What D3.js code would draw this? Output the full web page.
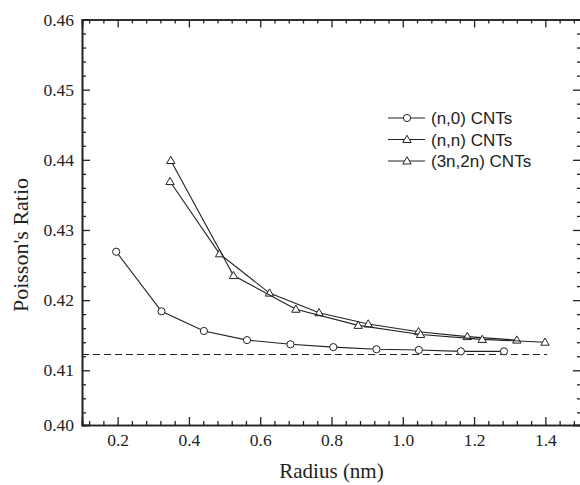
<!DOCTYPE html>
<html>
<head>
<meta charset="utf-8">
<script src="https://cdn.jsdelivr.net/npm/d3@7"></script>
<style>
  body { margin: 0; background: #fff; }
  .serif { font-family: "Liberation Serif", "Tinos", "Times New Roman", Times, "DejaVu Serif", serif; }
  .tick text { font-family: "Liberation Serif", "Tinos", "Times New Roman", Times, "DejaVu Serif", serif; font-size: 17.5px; fill: #222; }
</style>
</head>
<body>
<script>
// values
var radiusN0 = [0.196, 0.323, 0.442, 0.563, 0.685, 0.805, 0.926, 1.045, 1.163, 1.284]
var ratioN0 = [0.4269, 0.4184, 0.4156, 0.4143, 0.4137, 0.4133, 0.4130, 0.4129, 0.4127, 0.4127]
var radiusNN = [0.347, 0.486, 0.626, 0.765, 0.903, 1.044, 1.181, 1.320]
var ratioNN = [0.4369, 0.4266, 0.4210, 0.4182, 0.4166, 0.4155, 0.4148, 0.4143]
var radius32 = [0.349, 0.525, 0.700, 0.875, 1.050, 1.223, 1.399]
var ratio32 = [0.4399, 0.4235, 0.4187, 0.4164, 0.4151, 0.4144, 0.4140]
var limitRatio = 0.41225
var limitRadius = [0.1, 1.405]
var xTicks = [0.2, 0.4, 0.6, 0.8, 1.0, 1.2, 1.4]
var yTicks = [0.40, 0.41, 0.42, 0.43, 0.44, 0.45, 0.46]
var seriesNames = ['(n,0) CNTs', '(n,n) CNTs', '(3n,2n) CNTs']
var seriesMarks = ['circle', 'triangle', 'triangle']

var W = 580, H = 485
var margin = {top: 19.5, right: -1, bottom: 60, left: 82}
var width = W - margin.left - margin.right
var height = H - margin.top - margin.bottom

// the bottom of the frame sits a little above 0.40 in the original figure
var yMin = 0.4022
var x = d3.scaleLinear().domain([0.1, 1.5]).range([0, width])
var y = d3.scaleLinear().domain([yMin, 0.46]).range([height, 0])

var svg = d3.select('body').append('svg')
  .attr('width', W)
  .attr('height', H)
var g = svg.append('g')
  .attr('transform', `translate(${margin.left}, ${margin.top})`)

var xMinor = d3.range(0.12, 1.5, 0.04).filter(v => xTicks.every(t => Math.abs(t - v) > 1e-6))
var yMinor = d3.range(0.404, 0.46, 0.002).filter(v => yTicks.every(t => Math.abs(t - v) > 1e-6))
var yMajor = yTicks.map(v => Math.max(v, yMin))

function styleAxis(sel) {
  sel.attr('font-family', null).attr('font-size', null)
  sel.select('.domain').attr('stroke', '#222').attr('stroke-width', 1.6)
  sel.selectAll('.tick line').attr('stroke', '#222').attr('stroke-width', 1.3)
}

// minor ticks
g.append('g').attr('transform', `translate(0, ${height})`)
  .call(d3.axisBottom(x).tickValues(xMinor).tickSize(-4).tickFormat(''))
  .call(styleAxis)
g.append('g')
  .call(d3.axisTop(x).tickValues(xMinor).tickSize(-4).tickFormat(''))
  .call(styleAxis)
g.append('g')
  .call(d3.axisLeft(y).tickValues(yMinor).tickSize(-4).tickFormat(''))
  .call(styleAxis)
g.append('g').attr('transform', `translate(${width}, 0)`)
  .call(d3.axisRight(y).tickValues(yMinor).tickSize(-4).tickFormat(''))
  .call(styleAxis)

// major ticks
g.append('g').attr('transform', `translate(0, ${height})`)
  .call(d3.axisBottom(x).tickValues(xTicks).tickSize(-8).tickPadding(9).tickFormat(d3.format('.1f')))
  .call(styleAxis)
g.append('g')
  .call(d3.axisTop(x).tickValues(xTicks).tickSize(-8).tickFormat(''))
  .call(styleAxis)
g.append('g')
  .call(d3.axisLeft(y).tickValues(yMajor).tickSize(-8).tickPadding(8)
    .tickFormat(d => d === yMin ? '0.40' : d3.format('.2f')(d)))
  .call(styleAxis)
g.append('g').attr('transform', `translate(${width}, 0)`)
  .call(d3.axisRight(y).tickValues(yMajor).tickSize(-8).tickFormat(''))
  .call(styleAxis)

// limit line
g.append('line')
  .attr('x1', x(limitRadius[0])).attr('x2', x(limitRadius[1]))
  .attr('y1', y(limitRatio)).attr('y2', y(limitRatio))
  .attr('stroke', '#222').attr('stroke-width', 1.1)
  .attr('stroke-dasharray', '7,4')

var series = [
  {xs: radiusN0, ys: ratioN0},
  {xs: radiusNN, ys: ratioNN},
  {xs: radius32, ys: ratio32}
]

var line = d3.line().x(d => x(d[0])).y(d => y(d[1]))
var tri = d3.symbol().type(d3.symbolTriangle).size(30)

function mark(sel, type) {
  if (type === 'circle') {
    sel.append('circle').attr('r', 3.6)
  } else {
    sel.append('path').attr('d', tri).attr('transform', 'translate(0,0.6)')
  }
  sel.selectAll('circle, path')
    .attr('fill', '#fff').attr('stroke', '#222').attr('stroke-width', 1)
}

series.forEach(function (s, i) {
  var pts = s.xs.map((v, j) => [v, s.ys[j]])
  g.append('path')
    .attr('d', line(pts))
    .attr('fill', 'none')
    .attr('stroke', '#222')
    .attr('stroke-width', 1.1)
  pts.forEach(function (p) {
    var m = g.append('g').attr('transform', `translate(${x(p[0])}, ${y(p[1])})`)
    mark(m, seriesMarks[i])
  })
})

// legend
var legend = svg.append('g').attr('transform', 'translate(388, 118)')
seriesNames.forEach(function (name, i) {
  var row = legend.append('g').attr('transform', `translate(0, ${i * 21.5})`)
  row.append('line').attr('x1', 0).attr('x2', 37).attr('y1', 0).attr('y2', 0)
    .attr('stroke', '#222').attr('stroke-width', 1)
  var m = row.append('g').attr('transform', 'translate(19, 0)')
  mark(m, seriesMarks[i])
  row.append('text')
    .attr('x', 43).attr('y', 6)
    .style('font-family', '"Liberation Sans", Arial, sans-serif')
    .style('font-size', '17px')
    .style('fill', '#222')
    .text(name)
})

// axis titles
svg.append('text')
  .attr('class', 'serif')
  .attr('x', margin.left + x(0.8)).attr('y', 478)
  .attr('text-anchor', 'middle')
  .style('font-size', '21px')
  .style('fill', '#222')
  .text('Radius (nm)')

svg.append('text')
  .attr('class', 'serif')
  .attr('transform', 'translate(28, 245) rotate(-90)')
  .attr('text-anchor', 'middle')
  .style('font-size', '22px')
  .style('fill', '#222')
  .text("Poisson's Ratio")
</script>
</body>
</html>
